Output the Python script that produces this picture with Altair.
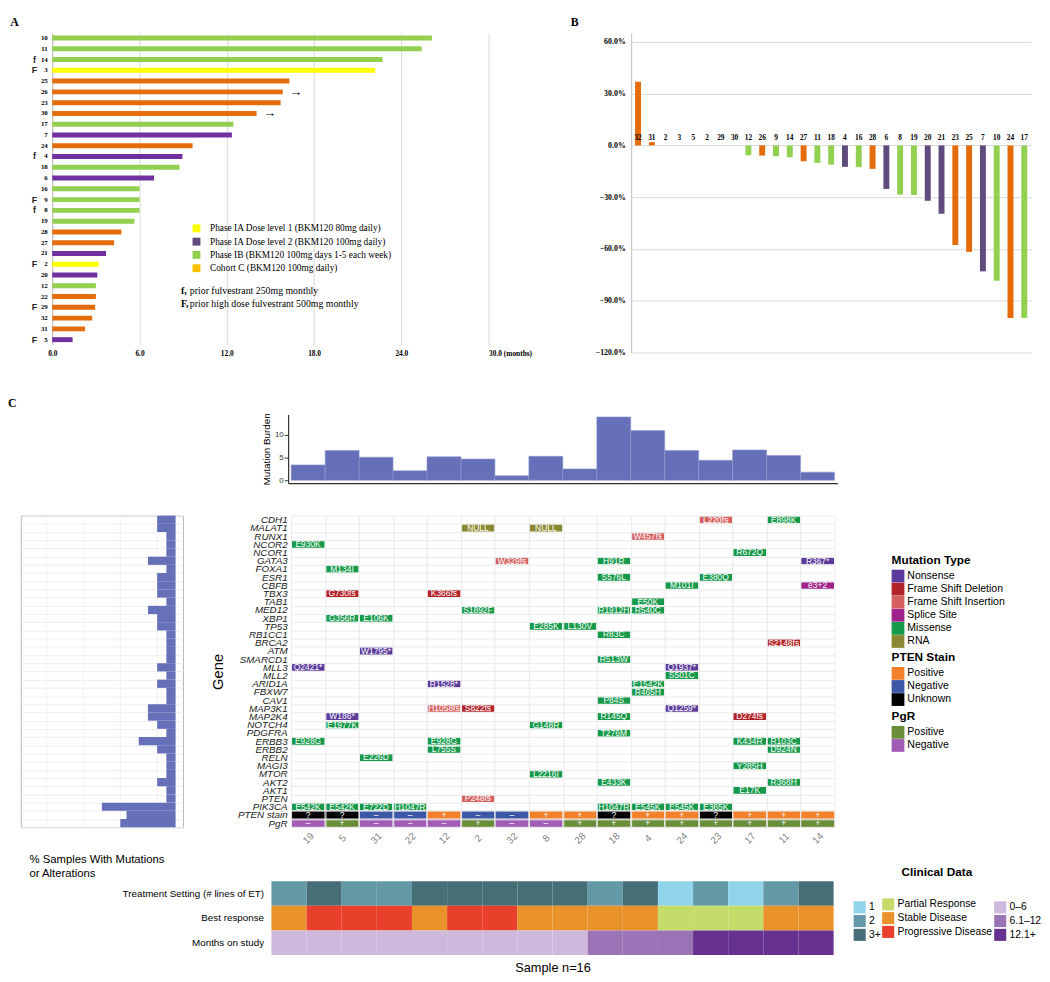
import altair as alt
import pandas as pd

SERIF = "Liberation Serif"
SANS = "Liberation Sans"

# ---------------- Panel A : months on study ----------------
a_patients = ["10", "11", "14", "3", "25", "26", "23", "30", "17", "7", "24", "4", "18", "6",
              "16", "9", "8", "19", "28", "27", "21", "2", "20", "12", "22", "29", "32", "31", "5"]
a_months = [26.1, 25.4, 22.7, 22.2, 16.3, 15.85, 15.7, 14.05, 12.45, 12.35, 9.65, 8.95, 8.75, 7.0,
            6.0, 6.0, 6.0, 5.65, 4.75, 4.25, 3.7, 3.2, 3.1, 3.0, 3.0, 2.95, 2.75, 2.25, 1.4]
a_cohort = ["IB", "IB", "IB", "IA1", "C", "C", "C", "C", "IB", "IA2", "C", "IA2", "IB", "IA2",
            "IB", "IB", "IB", "IB", "C", "C", "IA2", "IA1", "IA2", "IB", "C", "C", "C", "C", "IA2"]
a_prior = ["", "", "f", "F", "", "", "", "", "", "", "", "f", "", "", "", "F", "f", "", "", "",
           "", "F", "", "", "", "F", "", "", "F"]
a_ongoing = ["", "", "", "", "", "yes", "", "yes", "", "", "", "", "", "", "", "", "", "", "", "",
             "", "", "", "", "", "", "", "", ""]

cohort_codes = ["IA1", "IA2", "IB", "C"]
cohort_names = ["Phase IA Dose level 1 (BKM120 80mg daily)",
                "Phase IA Dose level 2 (BKM120 100mg daily)",
                "Phase IB (BKM120 100mg days 1-5 each week)",
                "Cohort C (BKM120 100mg daily)"]
a_bar_colors = ["#FFFF00", "#7030A0", "#92D050", "#E46C0A"]
a_key_colors = ["#FFFF00", "#604A7B", "#92D050", "#FFC000"]
b_bar_colors = ["#FFFF00", "#5F4B7D", "#92D050", "#E46C0A"]

notes_key = ["f,", "F,"]
notes_text = ["prior fulvestrant 250mg monthly", "prior high dose fulvestrant 500mg monthly"]

# ---------------- Panel B : waterfall ----------------
b_labels = ["32", "31", "2", "3", "5", "2", "29", "30", "12", "26", "9", "14", "27", "11", "18",
            "4", "16", "28", "6", "8", "19", "20", "21", "23", "25", "7", "10", "24", "17"]
b_change = [36.9, 1.9, 0, 0, 0, 0, 0, 0, -5.7, -5.9, -6.3, -6.9, -9.2, -10.1, -11.1,
            -12.4, -12.6, -13.6, -25.2, -28.5, -28.7, -32.1, -39.6, -57.7, -61.7, -73.0, -78.5, -100.0, -100.0]
b_cohort = ["C", "C", "IA1", "IA1", "IA2", "C", "C", "C", "IB", "C", "IB", "IB", "C", "IB", "IB",
            "IA2", "IB", "C", "IA2", "IB", "IB", "IA2", "IA2", "C", "C", "IA2", "IB", "C", "IB"]

# ---------------- Panel C : oncoprint ----------------
samples = ["19", "5", "31", "22", "12", "2", "32", "8", "28", "18", "4", "24", "23", "17", "11", "14"]
burden = [3.4, 6.6, 5.1, 2.1, 5.2, 4.7, 1.0, 5.3, 2.5, 14.0, 11.0, 6.6, 4.4, 6.7, 5.5, 1.8]

genes = ["CDH1", "MALAT1", "RUNX1", "NCOR2", "NCOR1", "GATA3", "FOXA1", "ESR1", "CBFB", "TBX3",
         "TAB1", "MED12", "XBP1", "TP53", "RB1CC1", "BRCA2", "ATM", "SMARCD1", "MLL3", "MLL2",
         "ARID1A", "FBXW7", "CAV1", "MAP3K1", "MAP2K4", "NOTCH4", "PDGFRA", "ERBB3", "ERBB2", "RELN",
         "MAGI3", "MTOR", "AKT2", "AKT1", "PTEN", "PIK3CA"]
rows = genes + ["PTEN stain", "PgR"]
pct_values = [12.5, 12.5, 6.25, 6.25, 6.25, 18.75, 6.25, 12.5, 12.5, 12.5,
              6.25, 18.75, 12.5, 12.5, 6.25, 6.25, 6.25, 6.25, 12.5, 6.25,
              12.5, 6.25, 6.25, 18.75, 18.75, 12.5, 6.25, 25.0, 12.5, 6.25,
              6.25, 6.25, 12.5, 6.25, 6.25, 50.0, 33.3, 37.5]
pct_minor = [12.5, 37.5, 62.5, 87.5]

mut_gene = ["CDH1", "CDH1", "MALAT1", "MALAT1", "RUNX1", "NCOR2", "NCOR1", "GATA3", "GATA3", "GATA3",
            "FOXA1", "ESR1", "ESR1", "CBFB", "CBFB", "TBX3", "TBX3", "TAB1", "MED12", "MED12",
            "MED12", "XBP1", "XBP1", "TP53", "TP53", "RB1CC1", "BRCA2", "ATM", "SMARCD1", "MLL3",
            "MLL3", "MLL2", "ARID1A", "ARID1A", "FBXW7", "CAV1", "MAP3K1", "MAP3K1", "MAP3K1", "MAP2K4",
            "MAP2K4", "MAP2K4", "NOTCH4", "NOTCH4", "PDGFRA", "ERBB3", "ERBB3", "ERBB3", "ERBB3", "ERBB2",
            "ERBB2", "RELN", "MAGI3", "MTOR", "AKT2", "AKT2", "AKT1", "PTEN",
            "PIK3CA", "PIK3CA", "PIK3CA", "PIK3CA", "PIK3CA", "PIK3CA", "PIK3CA", "PIK3CA"]
mut_sample = ["23", "11", "2", "8", "4", "19", "17", "32", "18", "14",
              "5", "18", "23", "24", "14", "5", "12", "4", "2", "18",
              "4", "5", "31", "8", "28", "18", "11", "31", "18", "19",
              "24", "24", "12", "4", "4", "18", "12", "2", "24", "5",
              "18", "17", "5", "8", "18", "19", "12", "17", "11", "12",
              "11", "31", "17", "8", "18", "11", "17", "2",
              "19", "5", "31", "22", "18", "4", "24", "23"]
mut_label = ["L220fs", "E898K", "NULL", "NULL", "W457fs", "E930K", "R672Q", "W329fs", "H91R", "R367*",
             "M134I", "S576L", "E380Q", "M101I", "e3+2", "G730fs", "K366fs", "E50K", "S1892F", "R1912H",
             "R540C", "G356R", "E106K", "E285K", "L130V", "R83C", "S2148fs", "W1795*", "R513W", "Q2421*",
             "Q1937*", "S501C", "R1528*", "E1542K", "R465H", "P84S", "H1058fs", "S822fs", "Q1259*", "W186*",
             "R145Q", "D274fs", "E1977K", "G148R", "T276M", "E928G", "E928G", "K434R", "R103C", "L755S",
             "D924N", "E226D", "Y285H", "L2216I", "E433K", "R368H", "E17K", "P248fs",
             "E542K", "E542K", "E722D", "H1047R", "H1047R", "E545K", "E545K", "E365K"]
mut_code = ["FI", "MS", "RNA", "RNA", "FI", "MS", "MS", "FI", "MS", "NS",
            "MS", "MS", "MS", "MS", "SS", "FD", "FD", "MS", "MS", "MS",
            "MS", "MS", "MS", "MS", "MS", "MS", "FD", "NS", "MS", "NS",
            "NS", "MS", "NS", "MS", "MS", "MS", "FI", "FD", "NS", "NS",
            "MS", "FD", "MS", "MS", "MS", "MS", "MS", "MS", "MS", "MS",
            "MS", "MS", "MS", "MS", "MS", "MS", "MS", "FI",
            "MS", "MS", "MS", "MS", "MS", "MS", "MS", "MS"]
type_codes = ["NS", "FD", "FI", "SS", "MS", "RNA"]
type_names = ["Nonsense", "Frame Shift Deletion", "Frame Shift Insertion", "Splice Site", "Missense", "RNA"]
type_colors = ["#5B3A9B", "#B2232A", "#D65F5F", "#A0228C", "#16994A", "#8B8832"]

pten_symbol = ["?", "?", "–", "–", "+", "–", "–", "+", "+", "?", "+", "+", "?", "+", "+", "+"]
pgr_symbol = ["–", "+", "–", "–", "–", "+", "–", "–", "+", "+", "+", "+", "+", "+", "+", "+"]
symbol_names = {"+": "Positive", "–": "Negative", "?": "Unknown"}
pten_names = ["Positive", "Negative", "Unknown"]
pten_colors = ["#F3812B", "#3C57A6", "#000000"]
pgr_names = ["Positive", "Negative"]
pgr_colors = ["#6A8D3A", "#A25CB6"]

clin_tracks = ["Treatment Setting (# lines of ET)", "Best response", "Months on study"]
treat_lines = ["2", "3+", "2", "2", "3+", "3+", "3+", "3+", "3+", "2", "3+", "1", "2", "1", "2", "3+"]
best_resp = ["Stable Disease", "Progressive Disease", "Progressive Disease", "Progressive Disease",
             "Stable Disease", "Progressive Disease", "Progressive Disease", "Stable Disease",
             "Stable Disease", "Stable Disease", "Stable Disease", "Partial Response",
             "Partial Response", "Partial Response", "Stable Disease", "Stable Disease"]
months_cat = ["0–6", "0–6", "0–6", "0–6", "0–6", "0–6", "0–6", "0–6", "0–6",
              "6.1–12", "6.1–12", "6.1–12", "12.1+", "12.1+", "12.1+", "12.1+"]
treat_domain = ["1", "2", "3+"]
treat_colors = ["#8FD4E8", "#6399A7", "#476D77"]
resp_domain = ["Partial Response", "Stable Disease", "Progressive Disease"]
resp_colors = ["#C5DC6B", "#E99229", "#E8402A"]
months_domain = ["0–6", "6.1–12", "12.1+"]
months_colors = ["#CEB9DC", "#9A74B6", "#67318F"]
BLUE = "#6570B8"


def spacer(w, h):
    return alt.Chart(pd.DataFrame({"v": [0]})).mark_point(opacity=0, size=1).encode(
        x=alt.value(1), y=alt.value(1)).properties(width=w, height=h)


# ======================= Panel A =======================
a_df = pd.DataFrame({"patient": a_patients, "months": a_months, "cohort": a_cohort,
                     "prior": a_prior, "ongoing": a_ongoing})
a_df["cohort_name"] = a_df["cohort"].map(dict(zip(cohort_codes, cohort_names)))

ya = alt.Y("patient:N", sort=a_patients, title=None,
           scale=alt.Scale(domain=a_patients, paddingInner=0.54, paddingOuter=0.23),
           axis=alt.Axis(labelFont=SERIF, labelFontWeight="bold", labelFontSize=7, labelColor="#000000",
                         ticks=False, domainColor="#BFBFBF", labelPadding=5, grid=False))
xa = alt.X("months:Q", title=None, scale=alt.Scale(domain=[0, 30], nice=False, zero=True),
           axis=alt.Axis(values=[0, 6, 12, 18, 24, 30],
                         labelExpr="datum.value == 30 ? '30.0 (months)' : format(datum.value, '.1f')",
                         labelAlign={"condition": {"test": "datum.value == 30", "value": "left"}, "value": "center"},
                         labelFont=SERIF, labelFontWeight="bold", labelFontSize=7.5, labelColor="#000000",
                         grid=True, gridColor="#D9D9D9", domain=False, ticks=False, labelPadding=5))

a_bars = alt.Chart(a_df).mark_bar().encode(
    x=xa, y=ya,
    color=alt.Color("cohort:N", scale=alt.Scale(domain=cohort_codes, range=a_bar_colors), legend=None))
a_key = alt.Chart(a_df).mark_square(opacity=0, size=1).encode(
    x=xa, y=ya,
    color=alt.Color("cohort_name:N", scale=alt.Scale(domain=cohort_names, range=a_key_colors),
                    legend=alt.Legend(title=None, orient="none", legendX=142, legendY=194,
                                      symbolType="square", symbolSize=64, symbolOpacity=1,
                                      symbolStrokeWidth=0, labelFont=SERIF, labelFontSize=9.5,
                                      labelColor="#000000", rowPadding=2.5, labelOffset=9, labelLimit=400)))
a_marks = alt.Chart(a_df).transform_filter("datum.prior != ''").mark_text(
    font=SANS, fontWeight="bold", fontSize=9, color="#222222").encode(
    x=alt.value(-18), y=ya, text="prior:N")
a_arrows = alt.Chart(a_df).transform_filter("datum.ongoing == 'yes'").mark_text(
    text="→", align="left", dx=7, fontSize=13, font=SERIF, color="#000000").encode(x=xa, y=ya)
a_notes = []
for i in range(2):
    nd = pd.DataFrame({"k": [notes_key[i]], "t": [notes_text[i]]})
    a_notes.append(alt.Chart(nd).mark_text(font=SERIF, fontWeight="bold", fontSize=10, align="left",
                                           color="#000000").encode(
        x=alt.value(131), y=alt.value(263 + 13 * i), text="k:N"))
    a_notes.append(alt.Chart(nd).mark_text(font=SERIF, fontSize=10, align="left", color="#000000").encode(
        x=alt.value(140), y=alt.value(263 + 13 * i), text="t:N"))

chart_a = alt.layer(a_key, a_bars, a_marks, a_arrows, *a_notes).resolve_scale(color="independent").properties(
    width=444, height=317,
    title=alt.TitleParams("A", anchor="start", font=SERIF, fontWeight="bold", fontSize=12, dx=-22, offset=4))

# ======================= Panel B =======================
b_df = pd.DataFrame({"pos": list(range(len(b_labels))), "label": b_labels,
                     "change": b_change, "cohort": b_cohort})
xb = alt.X("pos:O", axis=None, scale=alt.Scale(paddingInner=0.57, paddingOuter=0.285))
yb = alt.Y("change:Q", title=None, scale=alt.Scale(domain=[-120, 65.1], nice=False),
           axis=alt.Axis(values=[-120, -90, -60, -30, 0, 30, 60],
                         labelExpr="format(datum.value, '.1f') + '%'",
                         labelFont=SERIF, labelFontWeight="bold", labelFontSize=8, labelColor="#000000",
                         grid=True, gridColor="#D9D9D9", ticks=False, domainColor="#BFBFBF", labelPadding=6))
b_bars = alt.Chart(b_df).mark_bar().encode(
    x=xb, y=yb,
    color=alt.Color("cohort:N", scale=alt.Scale(domain=cohort_codes, range=b_bar_colors), legend=None))
b_text = alt.Chart(b_df).mark_text(font=SERIF, fontWeight="bold", fontSize=7.5, baseline="bottom",
                                   dy=-3, color="#000000").encode(x=xb, y=alt.datum(0), text="label:N")
chart_b = alt.layer(b_bars, b_text).properties(
    width=407, height=325,
    title=alt.TitleParams("B", anchor="start", font=SERIF, fontWeight="bold", fontSize=12, dx=-25, offset=4))

row_ab = alt.hconcat(alt.hconcat(spacer(1, 1), chart_a, spacing=0), chart_b,
                     spacing=39).resolve_scale(color="independent")

# ======================= Panel C =======================
burden_df = pd.DataFrame({"sample": samples, "burden": burden})
burden_chart = alt.Chart(burden_df).mark_bar(color=BLUE, stroke="#8F97CF", strokeWidth=0.6).encode(
    x=alt.X("sample:N", sort=samples, scale=alt.Scale(domain=samples, paddingInner=0, paddingOuter=0.09),
            axis=alt.Axis(labels=False, ticks=False, title=None, domainColor="#333333", domainWidth=1.2)),
    y=alt.Y("burden:Q", scale=alt.Scale(domain=[-0.65, 14.56], nice=False, zero=False),
            axis=alt.Axis(values=[0, 5, 10], title="Mutation Burden", titleFont=SANS, titleFontSize=10,
                          titleFontWeight="normal", titleColor="#000000", labelFont=SANS, labelFontSize=8,
                          labelColor="#333333", domainColor="#333333", domainWidth=1.2, tickColor="#333333",
                          tickSize=4, labelPadding=1, titlePadding=3, grid=False)),
    y2=alt.datum(0)
).properties(width=559, height=70)

c_row1 = alt.hconcat(spacer(258, 90), burden_chart, spacing=0)

pct_df = pd.DataFrame({"row": rows, "pct": pct_values})
pct_x_scale = alt.Scale(domain=[-5, 105], reverse=True, nice=False, zero=False)
pct_y = alt.Y("row:N", sort=rows, scale=alt.Scale(domain=rows, paddingInner=0, paddingOuter=0),
              axis=alt.Axis(labels=False, ticks=False, domain=False, title=None, grid=True,
                            gridColor="#EEEEEE", tickBand="extent"))
pct_minor_rules = alt.Chart(pd.DataFrame({"v": pct_minor})).mark_rule(color="#F3F3F3").encode(
    x=alt.X("v:Q", scale=pct_x_scale, axis=None))
pct_bars = alt.Chart(pct_df).mark_bar(color=BLUE).encode(
    y=pct_y,
    x=alt.X("pct:Q", scale=pct_x_scale,
            axis=alt.Axis(values=[0, 25, 50, 75, 100], title=None, grid=True, gridColor="#E6E6E6",
                          labelFont=SANS, labelFontSize=8, labelColor="#4D4D4D", tickColor="#4D4D4D",
                          tickSize=3, labelPadding=2, domain=False)),
    x2=alt.datum(0))
pct_chart = alt.layer(pct_minor_rules, pct_bars).properties(
    width=165, height=317, view=alt.ViewBackground(stroke="#B3B3B3"))

mut_df = pd.DataFrame({"row": mut_gene, "sample": mut_sample, "label": mut_label, "code": mut_code})
mut_df["type"] = mut_df["code"].map(dict(zip(type_codes, type_names)))
stat_df = pd.DataFrame({
    "row": ["PTEN stain"] * len(samples) + ["PgR"] * len(samples),
    "sample": samples + samples,
    "symbol": pten_symbol + pgr_symbol})
stat_df["status"] = stat_df["symbol"].map(symbol_names)

x_on = alt.X("sample:N", sort=samples, scale=alt.Scale(domain=samples, paddingInner=0, paddingOuter=0),
             axis=alt.Axis(title=None, labelAngle=-45, labelAlign="center", labelBaseline="middle",
                           labelPadding=11, labelFont=SANS, labelFontSize=10, labelColor="#808080",
                           ticks=False, domain=False, grid=True, gridColor="#EBEBEB", tickBand="extent"))
y_on = alt.Y("row:N", sort=rows, scale=alt.Scale(domain=rows, paddingInner=0, paddingOuter=0),
             axis=alt.Axis(title="Gene", titleFont=SANS, titleFontSize=15, titleFontWeight="normal",
                           titleColor="#000000", titlePadding=12, labelFont=SANS, labelFontStyle="italic",
                           labelFontSize=10, labelColor="#1A1A1A", labelOverlap=False, labelPadding=4,
                           labelLimit=0, ticks=False, domain=False, grid=True, gridColor="#EBEBEB",
                           tickBand="extent"))


def key(title, x, y):
    return dict(title=title, orient="none", legendX=x, legendY=y, titleFont=SANS, titleFontSize=12,
                titleFontWeight="bold", titleColor="#000000", titlePadding=3, labelFont=SANS,
                labelFontSize=10.7, labelColor="#000000", symbolType="square", symbolSize=169,
                symbolStrokeWidth=0, symbolOpacity=1, rowPadding=0.3, labelOffset=3, labelLimit=300)


mut_cells = alt.Chart(mut_df).mark_rect(stroke="white", strokeWidth=1.2).encode(
    x=x_on, y=y_on,
    color=alt.Color("type:N", scale=alt.Scale(domain=type_names, range=type_colors),
                    legend=alt.Legend(**key("Mutation Type", 611, 40))))
mut_text = alt.Chart(mut_df).mark_text(color="white", font=SANS, fontSize=8.6).encode(
    x=x_on, y=y_on, text="label:N")
pten_cells = alt.Chart(stat_df).transform_filter("datum.row == 'PTEN stain'").mark_rect(
    stroke="white", strokeWidth=0.6).encode(
    x=x_on, y=y_on,
    color=alt.Color("status:N", scale=alt.Scale(domain=pten_names, range=pten_colors),
                    legend=alt.Legend(**key("PTEN Stain", 611, 139))))
pgr_cells = alt.Chart(stat_df).transform_filter("datum.row == 'PgR'").mark_rect(
    stroke="white", strokeWidth=0.6).encode(
    x=x_on, y=y_on,
    color=alt.Color("status:N", scale=alt.Scale(domain=pgr_names, range=pgr_colors),
                    legend=alt.Legend(**key("PgR", 611, 199))))
stat_text = alt.Chart(stat_df).mark_text(color="white", font=SANS, fontSize=8.6).encode(
    x=x_on, y=y_on, text="symbol:N")
onco = alt.layer(mut_cells, mut_text, pten_cells, pgr_cells, stat_text).resolve_scale(
    color="independent").properties(width=553, height=317)

c_row2 = alt.hconcat(alt.hconcat(spacer(12, 1), pct_chart, spacing=0), onco,
                     spacing=27).resolve_scale(color="independent")

clin_df = pd.DataFrame({
    "track": [clin_tracks[0]] * 16 + [clin_tracks[1]] * 16 + [clin_tracks[2]] * 16,
    "sample": samples * 3,
    "value": treat_lines + best_resp + months_cat})
x_cl = alt.X("sample:N", sort=samples, scale=alt.Scale(domain=samples, paddingInner=0, paddingOuter=0),
             axis=alt.Axis(labels=False, ticks=False, domain=False, grid=False, title="Sample n=16",
                           titleFont=SANS, titleFontSize=13, titleFontWeight="normal", titleColor="#000000",
                           titlePadding=7))
y_cl = alt.Y("track:N", sort=clin_tracks, scale=alt.Scale(domain=clin_tracks, paddingInner=0, paddingOuter=0),
             axis=alt.Axis(title=None, labels=True, ticks=False, domain=False, grid=False, labelFont=SANS,
                           labelFontSize=10, labelColor="#000000", labelPadding=8, labelLimit=0))


def ckey(title, x, y, **kw):
    d = dict(orient="none", legendX=x, legendY=y, labelFont=SANS, labelFontSize=10.5,
             labelColor="#000000", symbolType="square", symbolSize=150, symbolStrokeWidth=0,
             symbolOpacity=1, rowPadding=1, labelOffset=3, labelLimit=300)
    d.update(kw)
    return alt.Legend(title=title, **d)


clin_treat = alt.Chart(clin_df).transform_filter(alt.datum.track == clin_tracks[0]).mark_rect().encode(
    x=x_cl, y=y_cl,
    color=alt.Color("value:N", scale=alt.Scale(domain=treat_domain, range=treat_colors),
                    legend=ckey(None, 592, 20)))
clin_resp = alt.Chart(clin_df).transform_filter(alt.datum.track == clin_tracks[1]).mark_rect().encode(
    x=x_cl, y=y_cl,
    color=alt.Color("value:N", scale=alt.Scale(domain=resp_domain, range=resp_colors),
                    legend=ckey("Clinical Data", 621, -14, titleFont=SANS, titleFontSize=12,
                                titleFontWeight="bold", titleColor="#000000", titlePadding=19,
                                titleAnchor="middle", titleAlign="center")))
clin_months = alt.Chart(clin_df).transform_filter(alt.datum.track == clin_tracks[2]).mark_rect().encode(
    x=x_cl, y=y_cl,
    color=alt.Color("value:N", scale=alt.Scale(domain=months_domain, range=months_colors),
                    legend=ckey(None, 735, 20)))
clinical = alt.layer(clin_treat, clin_resp, clin_months).resolve_scale(color="independent").properties(
    width=572, height=75,
    title=alt.TitleParams(["% Samples With Mutations", "or Alterations"], anchor="start", align="left",
                          font=SANS, fontSize=11.5, fontWeight="normal", color="#000000", lineHeight=14,
                          dx=-94, offset=-12))

c_row3 = alt.hconcat(spacer(21, 1), clinical, spacing=0).resolve_scale(color="independent")

panel_c = alt.vconcat(c_row1, c_row2, c_row3, spacing=8,
                      title=alt.TitleParams("C", anchor="start", font=SERIF, fontWeight="bold",
                                            fontSize=12, offset=3)).resolve_scale(color="independent")

chart = alt.vconcat(row_ab, panel_c, spacing=40, padding=0).resolve_scale(
    color="independent").configure_view(stroke=None)

chart.save("out.html", embed_options={"renderer": "svg", "actions": False})
